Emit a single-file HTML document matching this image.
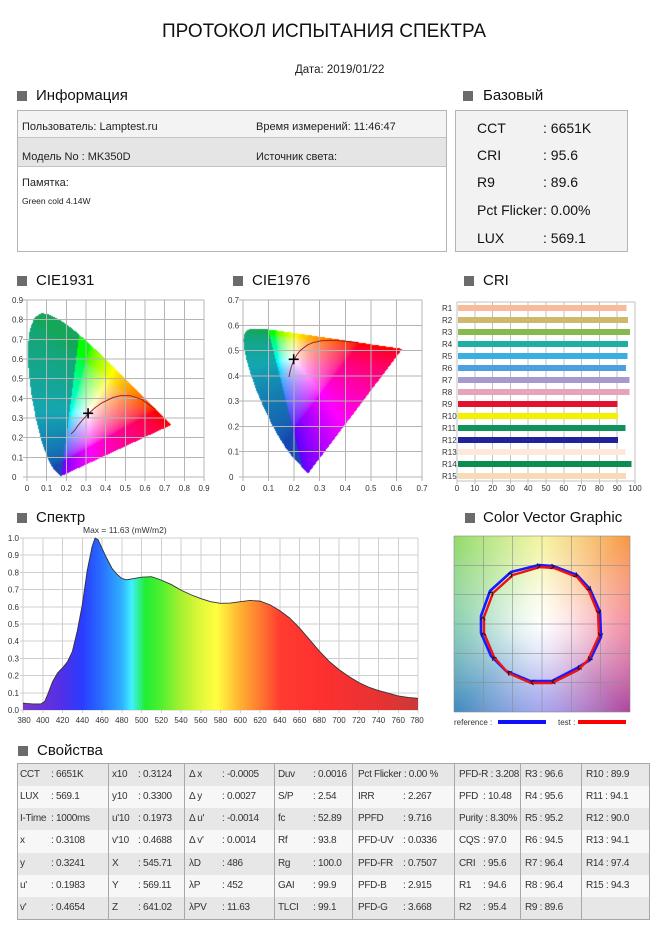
<!DOCTYPE html>
<html><head><meta charset="utf-8">
<style>
*{margin:0;padding:0;box-sizing:border-box}
html,body{width:658px;height:930px;background:#fff;overflow:hidden}
body{position:relative;font-family:"Liberation Sans","DejaVu Sans",sans-serif;color:#222}
.a{position:absolute;white-space:nowrap}
.sq{position:absolute;width:10px;height:10px;background:#6b6b6b}
.h{position:absolute;font-size:15px;line-height:18px;color:#111;white-space:nowrap}
.i{position:absolute;font-size:11px;line-height:12px;color:#222;white-space:nowrap}
.b{position:absolute;font-size:14px;line-height:16px;color:#111;white-space:nowrap}
canvas{position:absolute}
table{position:absolute;left:17px;top:763px;width:632px;height:156px;border-collapse:collapse;table-layout:fixed;border:1px solid #a8a8a8;font-size:10px;color:#333;letter-spacing:-0.3px}
td{border-left:1px solid #a8a8a8;border-right:1px solid #a8a8a8;white-space:nowrap;overflow:hidden;padding:0 0 0 3px;height:22.28px;line-height:12px}
tr:nth-child(odd) td{background:#e7e7e7}
tr:nth-child(even) td{background:#f7f7f7}
td s{text-decoration:none;display:inline-block}
.c1 s{width:31px}.c2 s{width:26px}.c3 s{width:33px}.c4 s{width:35px}.c5 s{width:45px}.c6 s{width:24px}
td.c1{padding-left:2px}td.c3{padding-left:4px}td.c5{padding-left:5px}td.c6{padding-left:4px}td.c7{padding-left:4px}td.c8{padding-left:4px}
</style></head><body>

<div class="a" style="left:0;top:20px;width:648px;text-align:center;font-size:19px;line-height:24px;color:#111">ПРОТОКОЛ ИСПЫТАНИЯ СПЕКТРА</div>
<div class="a" style="left:295px;top:63px;font-size:11.5px;line-height:14px">Дата: 2019/01/22</div>

<div class="sq" style="left:17px;top:91px"></div><div class="h" style="left:36px;top:87px">Информация</div>
<div class="sq" style="left:463px;top:91px"></div><div class="h" style="left:483px;top:87px">Базовый</div>

<!-- info box -->
<div class="a" style="left:17px;top:110px;width:430px;height:142px;border:1px solid #b4b4b4;background:#fff"></div>
<div class="a" style="left:18px;top:111px;width:428px;height:27px;background:#f3f3f3;border-bottom:1px solid #c4c4c4"></div>
<div class="a" style="left:18px;top:138px;width:428px;height:29px;background:#e5e5e5;border-bottom:1px solid #c4c4c4"></div>
<div class="i" style="left:22px;top:121px">Пользователь: Lamptest.ru</div>
<div class="i" style="left:256px;top:121px">Время измерений: 11:46:47</div>
<div class="i" style="left:22px;top:151px">Модель No : MK350D</div>
<div class="i" style="left:256px;top:151px">Источник света:</div>
<div class="i" style="left:22px;top:177px">Памятка:</div>
<div class="i" style="left:22px;top:196px;font-size:8.5px;line-height:10px">Green cold 4.14W</div>

<!-- base box -->
<div class="a" style="left:455px;top:110px;width:173px;height:142px;border:1px solid #b4b4b4;background:#f2f2f2"></div>
<div class="b" style="left:477px;top:120px">CCT</div><div class="b" style="left:543px;top:120px">: 6651K</div>
<div class="b" style="left:477px;top:147px">CRI</div><div class="b" style="left:543px;top:147px">: 95.6</div>
<div class="b" style="left:477px;top:174px">R9</div><div class="b" style="left:543px;top:174px">: 89.6</div>
<div class="b" style="left:477px;top:202px">Pct Flicker</div><div class="b" style="left:543px;top:202px">: 0.00%</div>
<div class="b" style="left:477px;top:230px">LUX</div><div class="b" style="left:543px;top:230px">: 569.1</div>

<!-- chart headers -->
<div class="sq" style="left:17px;top:276px"></div><div class="h" style="left:36px;top:272px">CIE1931</div>
<div class="sq" style="left:233px;top:276px"></div><div class="h" style="left:252px;top:272px">CIE1976</div>
<div class="sq" style="left:464px;top:276px"></div><div class="h" style="left:483px;top:272px">CRI</div>
<div class="sq" style="left:17px;top:513px"></div><div class="h" style="left:36px;top:509px">Спектр</div>
<div class="sq" style="left:465px;top:513px"></div><div class="h" style="left:483px;top:509px">Color Vector Graphic</div>
<div class="sq" style="left:18px;top:746px"></div><div class="h" style="left:37px;top:742px">Свойства</div>

<!-- canvases for chromaticity fills -->
<canvas id="c1" width="177" height="177" style="left:27px;top:300px;width:177px;height:177px"></canvas>
<canvas id="c2" width="179" height="177" style="left:243px;top:300px;width:179px;height:177px"></canvas>

<!-- vector graphic background -->
<div class="a" style="left:454px;top:536px;width:176px;height:176px;background:radial-gradient(circle at 50% 50%,rgba(255,255,255,1) 0px,rgba(255,255,255,0.85) 25px,rgba(255,255,255,0.45) 70px,rgba(255,255,255,0.05) 125px),conic-gradient(from 0deg at 50% 50%,#f0f070 0deg,#f89038 45deg,#f05a78 90deg,#a83a98 135deg,#7a7ae8 180deg,#3282ba 225deg,#52b892 270deg,#8cd860 315deg,#f0f070 360deg)"></div>

<svg class="a" style="left:0;top:0" width="658" height="930" viewBox="0 0 658 930" xmlns="http://www.w3.org/2000/svg" font-family="Liberation Sans, DejaVu Sans, sans-serif">
<defs>
<linearGradient id="sg" gradientUnits="userSpaceOnUse" x1="0" y1="0" x2="400" y2="0">
<stop offset="0" stop-color="#7a3cc8"/><stop offset="0.05" stop-color="#6a30d8"/><stop offset="0.1" stop-color="#5030e8"/><stop offset="0.15" stop-color="#2a3cff"/><stop offset="0.2" stop-color="#2870ff"/><stop offset="0.25" stop-color="#30b0ff"/><stop offset="0.275" stop-color="#40f0ff"/><stop offset="0.31" stop-color="#20ee30"/><stop offset="0.35" stop-color="#50f030"/><stop offset="0.4" stop-color="#a8f030"/><stop offset="0.45" stop-color="#e0f838"/><stop offset="0.49" stop-color="#ffff40"/><stop offset="0.55" stop-color="#ffb030"/><stop offset="0.6" stop-color="#ff7a30"/><stop offset="0.65" stop-color="#ff3c30"/><stop offset="0.75" stop-color="#ff3030"/><stop offset="0.9" stop-color="#e83232"/><stop offset="1" stop-color="#cc3838"/>
</linearGradient>
</defs>

<!-- CIE1931 grid -->
<g stroke="#b4b4b4" stroke-width="1" fill="none" shape-rendering="crispEdges">
<path d="M27 300V481M46.67 300V481M66.33 300V481M86 300V481M105.67 300V481M125.33 300V481M145 300V481M164.67 300V481M184.33 300V481M204 300V481"/>
<path d="M23 300H204M23 319.67H204M23 339.33H204M23 359H204M23 378.67H204M23 398.33H204M23 418H204M23 437.67H204M23 457.33H204M23 477H204"/>
</g>
<g font-size="8" fill="#333">
<text x="12" y="303">0.9</text><text x="12" y="322.7">0.8</text><text x="12" y="342.3">0.7</text><text x="12" y="362">0.6</text><text x="12" y="381.7">0.5</text><text x="12" y="401.3">0.4</text><text x="12" y="421">0.3</text><text x="12" y="440.7">0.2</text><text x="12" y="460.3">0.1</text><text x="12" y="480">0</text>
</g>
<g font-size="8" fill="#333" text-anchor="middle">
<text x="27" y="491">0</text><text x="46.67" y="491">0.1</text><text x="66.33" y="491">0.2</text><text x="86" y="491">0.3</text><text x="105.67" y="491">0.4</text><text x="125.33" y="491">0.5</text><text x="145" y="491">0.6</text><text x="164.67" y="491">0.7</text><text x="184.33" y="491">0.8</text><text x="204" y="491">0.9</text>
</g>
<polyline fill="none" stroke="#a02035" stroke-width="1" points="71,434 74.2,430.9 77.4,426.3 82.2,420.3 88.7,413.4 94.9,407.9 101.8,402.9 112.9,397.5 120.8,395.6 130.6,395.7 142.2,399.7 155.4,409.3"/>
<path d="M83.1 413.3H93.1M88.1 408.3V418.3" stroke="#000" stroke-width="1.6"/>

<!-- CIE1976 grid -->
<g stroke="#b4b4b4" stroke-width="1" fill="none" shape-rendering="crispEdges">
<path d="M243 300V481M268.57 300V481M294.14 300V481M319.71 300V481M345.29 300V481M370.86 300V481M396.43 300V481M422 300V481"/>
<path d="M239 300H422M239 325.29H422M239 350.57H422M239 375.86H422M239 401.14H422M239 426.43H422M239 451.71H422M239 477H422"/>
</g>
<g font-size="8" fill="#333">
<text x="228" y="303">0.7</text><text x="228" y="328.3">0.6</text><text x="228" y="353.6">0.5</text><text x="228" y="378.9">0.4</text><text x="228" y="404.1">0.3</text><text x="228" y="429.4">0.2</text><text x="228" y="454.7">0.1</text><text x="229" y="480">0</text>
</g>
<g font-size="8" fill="#333" text-anchor="middle">
<text x="243" y="491">0</text><text x="268.57" y="491">0.1</text><text x="294.14" y="491">0.2</text><text x="319.71" y="491">0.3</text><text x="345.29" y="491">0.4</text><text x="370.86" y="491">0.5</text><text x="396.43" y="491">0.6</text><text x="422" y="491">0.7</text>
</g>
<polyline fill="none" stroke="#a02035" stroke-width="1" points="289,377 290,371.9 291.7,365.7 294.2,359.3 297.1,354.4 300.6,350.2 307.1,345.2 312.6,342.7 321,340.8 334.5,340.3 357.6,342.5"/>
<path d="M288.7 359.3H298.7M293.7 354.3V364.3" stroke="#000" stroke-width="1.6"/>

<!-- CRI chart -->
<g stroke="#c0c0c0" stroke-width="1" fill="none" shape-rendering="crispEdges">
<path d="M457 302V484M474.8 302V484M492.6 302V484M510.4 302V484M528.2 302V484M546 302V484M563.8 302V484M581.6 302V484M599.4 302V484M617.2 302V484M635 302V484"/>
<path d="M457 302H635M457 481H635"/>
</g>
<g shape-rendering="crispEdges">
<rect x="458" y="305" width="168.4" height="6" fill="#f7bb9c"/>
<rect x="458" y="317" width="169.8" height="6" fill="#cdb86c"/>
<rect x="458" y="329" width="171.9" height="6" fill="#86b94e"/>
<rect x="458" y="341" width="170.2" height="6" fill="#1bb0a2"/>
<rect x="458" y="353" width="169.5" height="6" fill="#3ab0e2"/>
<rect x="458" y="365" width="168.2" height="6" fill="#4aa0e0"/>
<rect x="458" y="377" width="171.6" height="6" fill="#a899cc"/>
<rect x="458" y="389" width="171.6" height="6" fill="#e7a3b9"/>
<rect x="458" y="401" width="159.5" height="6" fill="#e2112e"/>
<rect x="458" y="413" width="160.0" height="6" fill="#f5f000"/>
<rect x="458" y="425" width="167.5" height="6" fill="#0e935e"/>
<rect x="458" y="437" width="160.2" height="6" fill="#22229a"/>
<rect x="458" y="449" width="167.5" height="6" fill="#fde9dc"/>
<rect x="458" y="461" width="173.4" height="6" fill="#0b8c50"/>
<rect x="458" y="473" width="167.9" height="6" fill="#f9dab8"/>
</g>
<g font-size="8" fill="#333">
<text x="442" y="311">R1</text><text x="442" y="323">R2</text><text x="442" y="335">R3</text><text x="442" y="347">R4</text><text x="442" y="359">R5</text><text x="442" y="371">R6</text><text x="442" y="383">R7</text><text x="442" y="395">R8</text><text x="442" y="407">R9</text><text x="442" y="419">R10</text><text x="442" y="431">R11</text><text x="442" y="443">R12</text><text x="442" y="455">R13</text><text x="442" y="467">R14</text><text x="442" y="479">R15</text>
</g>
<g font-size="8" fill="#333" text-anchor="middle">
<text x="457" y="491">0</text><text x="474.8" y="491">10</text><text x="492.6" y="491">20</text><text x="510.4" y="491">30</text><text x="528.2" y="491">40</text><text x="546" y="491">50</text><text x="563.8" y="491">60</text><text x="581.6" y="491">70</text><text x="599.4" y="491">80</text><text x="617.2" y="491">90</text><text x="635" y="491">100</text>
</g>

<!-- Spectrum -->
<g stroke="#cfcfcf" stroke-width="1" fill="none" shape-rendering="crispEdges">
<path d="M23 538V713M42.75 538V713M62.5 538V713M82.25 538V713M102 538V713M121.75 538V713M141.5 538V713M161.25 538V713M181 538V713M200.75 538V713M220.5 538V713M240.25 538V713M260 538V713M279.75 538V713M299.5 538V713M319.25 538V713M339 538V713M358.75 538V713M378.5 538V713M398.25 538V713M418 538V713"/>
<path d="M20 710H418M20 692.8H418M20 675.6H418M20 658.4H418M20 641.2H418M20 624H418M20 606.8H418M20 589.6H418M20 572.4H418M20 555.2H418M20 538H418"/>
</g>
<g transform="translate(23,710) scale(0.9875,-172)">
<polygon fill="url(#sg)" points="0,0.04 3,0.038 10,0.035 18,0.035 22,0.05 25,0.09 30,0.165 35,0.215 40,0.245 45,0.28 50,0.34 55,0.46 60,0.61 65,0.81 70,0.95 73,1 76,0.99 80,0.94 85,0.88 90,0.825 95,0.79 100,0.765 105,0.757 110,0.762 120,0.772 130,0.775 135,0.766 140,0.755 150,0.73 160,0.697 170,0.67 180,0.648 190,0.63 200,0.62 210,0.622 220,0.63 230,0.637 240,0.633 250,0.612 260,0.578 270,0.535 280,0.477 290,0.41 300,0.343 310,0.283 320,0.235 330,0.195 340,0.16 350,0.133 360,0.113 370,0.098 380,0.082 390,0.073 400,0.068 400,0 0,0"/>
<polyline fill="none" stroke="#333" stroke-width="0.9" vector-effect="non-scaling-stroke" points="0,0.04 3,0.038 10,0.035 18,0.035 22,0.05 25,0.09 30,0.165 35,0.215 40,0.245 45,0.28 50,0.34 55,0.46 60,0.61 65,0.81 70,0.95 73,1 76,0.99 80,0.94 85,0.88 90,0.825 95,0.79 100,0.765 105,0.757 110,0.762 120,0.772 130,0.775 135,0.766 140,0.755 150,0.73 160,0.697 170,0.67 180,0.648 190,0.63 200,0.62 210,0.622 220,0.63 230,0.637 240,0.633 250,0.612 260,0.578 270,0.535 280,0.477 290,0.41 300,0.343 310,0.283 320,0.235 330,0.195 340,0.16 350,0.133 360,0.113 370,0.098 380,0.082 390,0.073 400,0.068"/>
</g>
<text x="83" y="533" font-size="8.5" fill="#333">Max = 11.63 (mW/m2)</text>
<g font-size="8" fill="#333" text-anchor="end">
<text x="19" y="541">1.0</text><text x="19" y="558.2">0.9</text><text x="19" y="575.4">0.8</text><text x="19" y="592.6">0.7</text><text x="19" y="609.8">0.6</text><text x="19" y="627">0.5</text><text x="19" y="644.2">0.4</text><text x="19" y="661.4">0.3</text><text x="19" y="678.6">0.2</text><text x="19" y="695.8">0.1</text><text x="19" y="713">0.0</text>
</g>
<g font-size="8" fill="#333" text-anchor="middle">
<text x="24" y="723">380</text><text x="42.75" y="723">400</text><text x="62.5" y="723">420</text><text x="82.25" y="723">440</text><text x="102" y="723">460</text><text x="121.75" y="723">480</text><text x="141.5" y="723">500</text><text x="161.25" y="723">520</text><text x="181" y="723">540</text><text x="200.75" y="723">560</text><text x="220.5" y="723">580</text><text x="240.25" y="723">600</text><text x="260" y="723">620</text><text x="279.75" y="723">640</text><text x="299.5" y="723">660</text><text x="319.25" y="723">680</text><text x="339" y="723">700</text><text x="358.75" y="723">720</text><text x="378.5" y="723">740</text><text x="398.25" y="723">760</text><text x="417" y="723">780</text>
</g>

<!-- Color vector graphic -->
<g stroke="rgba(140,140,140,0.6)" stroke-width="1" fill="none" shape-rendering="crispEdges">
<path d="M454 536V712M483.33 536V712M512.67 536V712M542 536V712M571.33 536V712M600.67 536V712M630 536V712"/>
<path d="M454 536H630M454 565.33H630M454 594.67H630M454 624H630M454 653.33H630M454 682.67H630M454 712H630"/>
</g>
<polygon fill="none" stroke="#1a1aff" stroke-width="2.6" stroke-linejoin="round" points="539,565 553,566 577,575 590,589 600,612 601,637 590,660 577,668 552,681 530,681 506,671 491,656 481,633 481,616 490,591 511,572"/>
<polygon fill="none" stroke="#ee1212" stroke-width="2.4" stroke-linejoin="round" points="540,567 554,568 577,577 589,591 598,613 599,636 588,660 578,670 552,683 531,683 508,673 494,657 484,633 484,617 493,593 513,575"/>
<g fill="none" stroke="#111" stroke-width="1">
<path d="M-3,-2.5L0,0L-3,2.5" transform="translate(540,566) rotate(-2)"/>
<path d="M-3,-2.5L0,0L-3,2.5" transform="translate(554,567) rotate(12)"/>
<path d="M-3,-2.5L0,0L-3,2.5" transform="translate(577,576) rotate(36)"/>
<path d="M-3,-2.5L0,0L-3,2.5" transform="translate(590,590) rotate(55)"/>
<path d="M-3,-2.5L0,0L-3,2.5" transform="translate(599,613) rotate(79)"/>
<path d="M-3,-2.5L0,0L-3,2.5" transform="translate(600,636) rotate(102)"/>
<path d="M-3,-2.5L0,0L-3,2.5" transform="translate(589,660) rotate(127)"/>
<path d="M-3,-2.5L0,0L-3,2.5" transform="translate(578,669) rotate(141)"/>
<path d="M-3,-2.5L0,0L-3,2.5" transform="translate(552,682) rotate(170)"/>
<path d="M-3,-2.5L0,0L-3,2.5" transform="translate(531,682) rotate(191)"/>
<path d="M-3,-2.5L0,0L-3,2.5" transform="translate(508,672) rotate(215)"/>
<path d="M-3,-2.5L0,0L-3,2.5" transform="translate(493,657) rotate(236)"/>
<path d="M-3,-2.5L0,0L-3,2.5" transform="translate(483,633) rotate(261)"/>
<path d="M-3,-2.5L0,0L-3,2.5" transform="translate(483,617) rotate(277)"/>
<path d="M-3,-2.5L0,0L-3,2.5" transform="translate(492,592) rotate(303)"/>
<path d="M-3,-2.5L0,0L-3,2.5" transform="translate(512,574) rotate(329)"/>
</g>
<text x="454" y="725" font-size="8" fill="#333">reference :</text>
<rect x="498" y="720" width="48" height="4" fill="#1010ff"/>
<text x="558" y="725" font-size="8" fill="#333">test :</text>
<rect x="578" y="720" width="48" height="4" fill="#ff0000"/>
</svg>

<table>
<colgroup><col style="width:91px"><col style="width:76px"><col style="width:90px"><col style="width:78px"><col style="width:102px"><col style="width:66px"><col style="width:61px"><col style="width:68px"></colgroup>
<tr><td class="c1"><s>CCT</s>: 6651K</td><td class="c2"><s>x10</s>: 0.3124</td><td class="c3"><s>Δ x</s>: -0.0005</td><td class="c4"><s>Duv</s>: 0.0016</td><td class="c5">Pct Flicker : 0.00 %</td><td class="c6">PFD-R : 3.208</td><td class="c7">R3 : 96.6</td><td class="c8">R10 : 89.9</td></tr>
<tr><td class="c1"><s>LUX</s>: 569.1</td><td class="c2"><s>y10</s>: 0.3300</td><td class="c3"><s>Δ y</s>: 0.0027</td><td class="c4"><s>S/P</s>: 2.54</td><td class="c5"><s>IRR</s>: 2.267</td><td class="c6"><s>PFD</s>: 10.48</td><td class="c7">R4 : 95.6</td><td class="c8">R11 : 94.1</td></tr>
<tr><td class="c1"><s>I-Time</s>: 1000ms</td><td class="c2"><s>u'10</s>: 0.1973</td><td class="c3"><s>Δ u'</s>: -0.0014</td><td class="c4"><s>fc</s>: 52.89</td><td class="c5"><s>PPFD</s>: 9.716</td><td class="c6">Purity : 8.30%</td><td class="c7">R5 : 95.2</td><td class="c8">R12 : 90.0</td></tr>
<tr><td class="c1"><s>x</s>: 0.3108</td><td class="c2"><s>v'10</s>: 0.4688</td><td class="c3"><s>Δ v'</s>: 0.0014</td><td class="c4"><s>Rf</s>: 93.8</td><td class="c5"><s>PFD-UV</s>: 0.0336</td><td class="c6"><s>CQS</s>: 97.0</td><td class="c7">R6 : 94.5</td><td class="c8">R13 : 94.1</td></tr>
<tr><td class="c1"><s>y</s>: 0.3241</td><td class="c2"><s>X</s>: 545.71</td><td class="c3"><s>λD</s>: 486</td><td class="c4"><s>Rg</s>: 100.0</td><td class="c5"><s>PFD-FR</s>: 0.7507</td><td class="c6"><s>CRI</s>: 95.6</td><td class="c7">R7 : 96.4</td><td class="c8">R14 : 97.4</td></tr>
<tr><td class="c1"><s>u'</s>: 0.1983</td><td class="c2"><s>Y</s>: 569.11</td><td class="c3"><s>λP</s>: 452</td><td class="c4"><s>GAI</s>: 99.9</td><td class="c5"><s>PFD-B</s>: 2.915</td><td class="c6"><s>R1</s>: 94.6</td><td class="c7">R8 : 96.4</td><td class="c8">R15 : 94.3</td></tr>
<tr><td class="c1"><s>v'</s>: 0.4654</td><td class="c2"><s>Z</s>: 641.02</td><td class="c3"><s>λPV</s>: 11.63</td><td class="c4"><s>TLCI</s>: 99.1</td><td class="c5"><s>PFD-G</s>: 3.668</td><td class="c6"><s>R2</s>: 95.4</td><td class="c7">R9 : 89.6</td><td class="c8"></td></tr>
</table>

<script>
(function(){
var L=[[0.1741,0.0050],[0.1738,0.0049],[0.1733,0.0048],[0.1726,0.0048],[0.1714,0.0051],[0.1689,0.0069],[0.1644,0.0109],[0.1566,0.0177],[0.1440,0.0297],[0.1355,0.0399],[0.1241,0.0578],[0.1096,0.0868],[0.0913,0.1327],[0.0687,0.2007],[0.0454,0.2950],[0.0235,0.4127],[0.0082,0.5384],[0.0039,0.6548],[0.0139,0.7502],[0.0389,0.8120],[0.0743,0.8338],[0.1142,0.8262],[0.1547,0.8059],[0.1929,0.7816],[0.2296,0.7543],[0.2658,0.7243],[0.3016,0.6923],[0.3373,0.6589],[0.3731,0.6245],[0.4087,0.5896],[0.4441,0.5547],[0.4788,0.5202],[0.5125,0.4866],[0.5448,0.4544],[0.5752,0.4242],[0.6029,0.3965],[0.6270,0.3725],[0.6482,0.3514],[0.6658,0.3340],[0.6801,0.3197],[0.6915,0.3083],[0.7006,0.2993],[0.7079,0.2920],[0.7140,0.2859],[0.7190,0.2809],[0.7230,0.2770],[0.7260,0.2740],[0.7347,0.2653]];
function inside(p,x,y){var c=false;for(var i=0,j=p.length-1;i<p.length;j=i++){var xi=p[i][0],yi=p[i][1],xj=p[j][0],yj=p[j][1];if(((yi>y)!=(yj>y))&&(x<(xj-xi)*(y-yi)/(yj-yi)+xi))c=!c;}return c;}
function gam(c){return c<=0.0031308?12.92*c:1.055*Math.pow(c,1/2.4)-0.055;}
function rgb(x,y,dark){var X=x/y,Z=(1-x-y)/y;var r=3.2406*X-1.5372-0.4986*Z,g=-0.9689*X+1.8758+0.0415*Z,b=0.0557*X-0.2040+1.0570*Z;r=Math.max(r,0);g=Math.max(g,0);b=Math.max(b,0);var m=Math.max(r,g,b)||1;r=gam(r/m);g=gam(g/m);b=gam(b/m);
if(dark){var rr=0.08+0.1*r,gg=0.62*g+0.25*b*(1-g)+0.03,bb=0.7*b+0.35*(1-b);return[rr*255,gg*255,bb*255];}
return[r*255,g*255,b*255];}
function draw(id,sx,sy,uv){var cv=document.getElementById(id);if(!cv||!cv.getContext)return;var W=cv.width,H=cv.height,ctx=cv.getContext('2d'),im=ctx.createImageData(W,H),d=im.data;
var P=uv?L.map(function(p){var dd=-2*p[0]+12*p[1]+3;return[4*p[0]/dd,9*p[1]/dd];}):L;
for(var py=0;py<H;py++)for(var px=0;px<W;px++){var a=(px+0.5)/sx,b=(H-py-0.5)/sy;if(!inside(P,a,b))continue;var x,y,dk;
if(uv){var q=6*a-16*b+12;x=9*a/q;y=4*b/q;dk=a<0.242-0.247*b;}else{x=a;y=b;dk=a<0.175+0.125*b;}
if(y<=0.0001)continue;var c=rgb(x,y,dk),k=(py*W+px)*4;d[k]=c[0];d[k+1]=c[1];d[k+2]=c[2];d[k+3]=255;}
ctx.putImageData(im,0,0);}
draw('c1',196.67,196.67,false);draw('c2',255.71,252.86,true);
})();
</script>
</body></html>
